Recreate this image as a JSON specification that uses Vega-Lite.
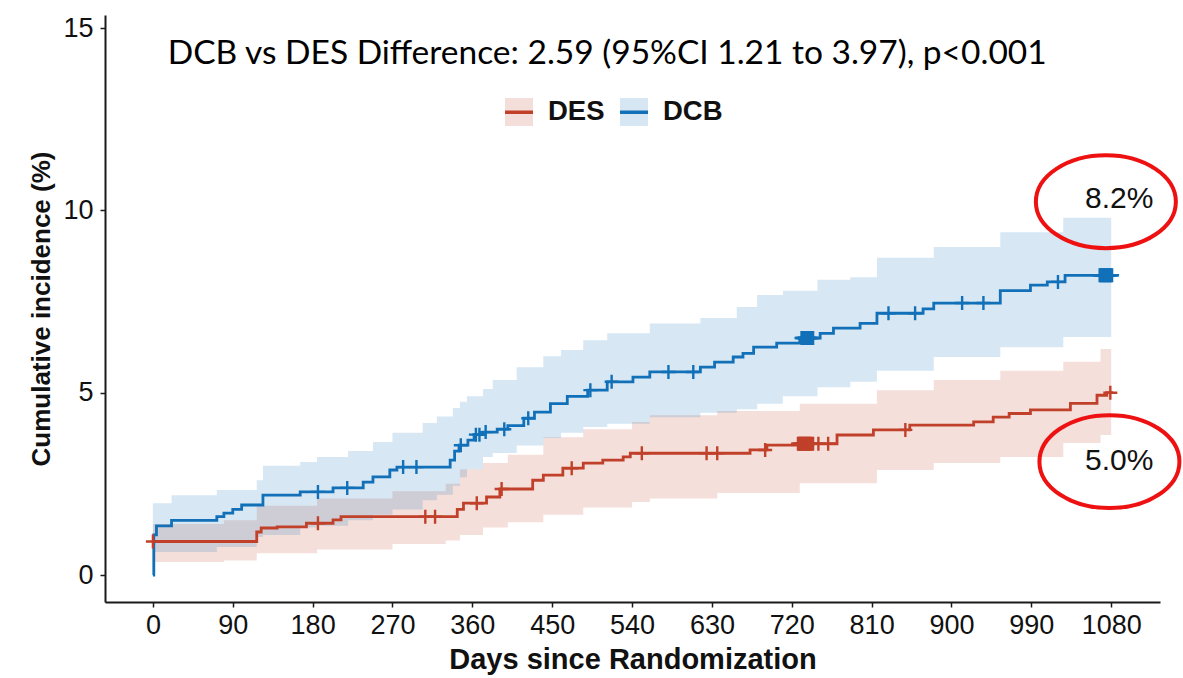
{
  "$schema": "https://vega.github.io/schema/vega-lite/v6.json",
  "width": 1055,
  "height": 587,
  "autosize": {"type": "none"},
  "padding": {"left": 105, "top": 15, "right": 23, "bottom": 76},
  "background": "white",
  "config": {
    "view": {"stroke": null},
    "axis": {
      "grid": false,
      "domainColor": "#1a1a1a",
      "domainWidth": 2,
      "tickColor": "#1a1a1a",
      "tickWidth": 1.5,
      "tickSize": 5,
      "labelFont": "Liberation Sans",
      "labelFontSize": 27,
      "labelColor": "#111111",
      "titleFont": "Liberation Sans",
      "titleFontWeight": "bold",
      "titleColor": "#111111"
    }
  },
  "datasets": {
    "bands": [
      {"group": "DES", "day": 0, "lo": 0.36, "hi": 1.4},
      {"group": "DES", "day": 80, "lo": 0.4, "hi": 1.5},
      {"group": "DES", "day": 117, "lo": 0.6, "hi": 1.9},
      {"group": "DES", "day": 185, "lo": 0.7, "hi": 2.1},
      {"group": "DES", "day": 270, "lo": 0.85, "hi": 2.3},
      {"group": "DES", "day": 330, "lo": 0.95, "hi": 2.5},
      {"group": "DES", "day": 346, "lo": 1.1, "hi": 2.9},
      {"group": "DES", "day": 372, "lo": 1.3, "hi": 3.07},
      {"group": "DES", "day": 400, "lo": 1.45, "hi": 3.3},
      {"group": "DES", "day": 440, "lo": 1.65, "hi": 3.78},
      {"group": "DES", "day": 485, "lo": 1.85, "hi": 4.0},
      {"group": "DES", "day": 540, "lo": 2.0, "hi": 4.2},
      {"group": "DES", "day": 560, "lo": 2.1, "hi": 4.38},
      {"group": "DES", "day": 636, "lo": 2.25, "hi": 4.5},
      {"group": "DES", "day": 729, "lo": 2.52, "hi": 4.7},
      {"group": "DES", "day": 816, "lo": 2.88, "hi": 5.07},
      {"group": "DES", "day": 880, "lo": 3.07, "hi": 5.35},
      {"group": "DES", "day": 955, "lo": 3.24, "hi": 5.6},
      {"group": "DES", "day": 1026, "lo": 3.62, "hi": 5.85},
      {"group": "DES", "day": 1068, "lo": 3.84, "hi": 6.2},
      {"group": "DES", "day": 1080, "lo": 3.84, "hi": 6.2},
      {"group": "DCB", "day": 0, "lo": 0.63, "hi": 1.97},
      {"group": "DCB", "day": 21, "lo": 0.63, "hi": 2.19},
      {"group": "DCB", "day": 72, "lo": 0.77, "hi": 2.33},
      {"group": "DCB", "day": 117, "lo": 1.04, "hi": 2.6},
      {"group": "DCB", "day": 124, "lo": 1.1, "hi": 3.0},
      {"group": "DCB", "day": 166, "lo": 1.3, "hi": 3.1},
      {"group": "DCB", "day": 185, "lo": 1.35, "hi": 3.24},
      {"group": "DCB", "day": 220, "lo": 1.5, "hi": 3.4},
      {"group": "DCB", "day": 248, "lo": 1.65, "hi": 3.65},
      {"group": "DCB", "day": 270, "lo": 1.8, "hi": 3.9},
      {"group": "DCB", "day": 304, "lo": 2.05, "hi": 4.17},
      {"group": "DCB", "day": 320, "lo": 2.2, "hi": 4.35},
      {"group": "DCB", "day": 338, "lo": 2.45, "hi": 4.58},
      {"group": "DCB", "day": 346, "lo": 2.68, "hi": 4.75},
      {"group": "DCB", "day": 354, "lo": 2.9, "hi": 4.9},
      {"group": "DCB", "day": 372, "lo": 3.24, "hi": 5.1},
      {"group": "DCB", "day": 383, "lo": 3.35, "hi": 5.35},
      {"group": "DCB", "day": 410, "lo": 3.55, "hi": 5.7},
      {"group": "DCB", "day": 440, "lo": 3.76, "hi": 6.0},
      {"group": "DCB", "day": 460, "lo": 3.9, "hi": 6.17},
      {"group": "DCB", "day": 485, "lo": 4.06, "hi": 6.44},
      {"group": "DCB", "day": 512, "lo": 4.15, "hi": 6.63},
      {"group": "DCB", "day": 560, "lo": 4.33, "hi": 6.9},
      {"group": "DCB", "day": 617, "lo": 4.45, "hi": 7.05},
      {"group": "DCB", "day": 658, "lo": 4.55, "hi": 7.35},
      {"group": "DCB", "day": 681, "lo": 4.7, "hi": 7.68},
      {"group": "DCB", "day": 710, "lo": 4.9, "hi": 7.8},
      {"group": "DCB", "day": 749, "lo": 5.15, "hi": 8.1},
      {"group": "DCB", "day": 786, "lo": 5.3, "hi": 8.17},
      {"group": "DCB", "day": 816, "lo": 5.6, "hi": 8.7},
      {"group": "DCB", "day": 880, "lo": 5.98, "hi": 9.0},
      {"group": "DCB", "day": 955, "lo": 6.25, "hi": 9.4},
      {"group": "DCB", "day": 1026, "lo": 6.53, "hi": 9.8},
      {"group": "DCB", "day": 1080, "lo": 6.53, "hi": 9.8}
    ],
    "curves": [
      {"grp": "DES", "day": 0, "est": 0.92},
      {"grp": "DES", "day": 117, "est": 1.18},
      {"grp": "DES", "day": 122, "est": 1.29},
      {"grp": "DES", "day": 140, "est": 1.32},
      {"grp": "DES", "day": 173, "est": 1.42},
      {"grp": "DES", "day": 203, "est": 1.51},
      {"grp": "DES", "day": 212, "est": 1.6},
      {"grp": "DES", "day": 343, "est": 1.8},
      {"grp": "DES", "day": 350, "est": 1.97},
      {"grp": "DES", "day": 376, "est": 2.14},
      {"grp": "DES", "day": 391, "est": 2.36},
      {"grp": "DES", "day": 428, "est": 2.6},
      {"grp": "DES", "day": 440, "est": 2.74},
      {"grp": "DES", "day": 462, "est": 2.93},
      {"grp": "DES", "day": 485, "est": 3.07},
      {"grp": "DES", "day": 507, "est": 3.15},
      {"grp": "DES", "day": 530, "est": 3.24},
      {"grp": "DES", "day": 538, "est": 3.34},
      {"grp": "DES", "day": 673, "est": 3.43},
      {"grp": "DES", "day": 692, "est": 3.56},
      {"grp": "DES", "day": 726, "est": 3.6},
      {"grp": "DES", "day": 771, "est": 3.84},
      {"grp": "DES", "day": 812, "est": 3.98},
      {"grp": "DES", "day": 853, "est": 4.11},
      {"grp": "DES", "day": 925, "est": 4.2},
      {"grp": "DES", "day": 947, "est": 4.33},
      {"grp": "DES", "day": 965, "est": 4.43},
      {"grp": "DES", "day": 989, "est": 4.53},
      {"grp": "DES", "day": 1034, "est": 4.71},
      {"grp": "DES", "day": 1064, "est": 4.93},
      {"grp": "DES", "day": 1075, "est": 5.0},
      {"grp": "DES", "day": 1082, "est": 5.0},
      {"grp": "DCB", "day": 0, "est": 0},
      {"grp": "DCB", "day": 1, "est": 1.1},
      {"grp": "DCB", "day": 4, "est": 1.35},
      {"grp": "DCB", "day": 21, "est": 1.5},
      {"grp": "DCB", "day": 72, "est": 1.6},
      {"grp": "DCB", "day": 80, "est": 1.7},
      {"grp": "DCB", "day": 90, "est": 1.8},
      {"grp": "DCB", "day": 100, "est": 1.92},
      {"grp": "DCB", "day": 124, "est": 2.19},
      {"grp": "DCB", "day": 166, "est": 2.28},
      {"grp": "DCB", "day": 203, "est": 2.39},
      {"grp": "DCB", "day": 237, "est": 2.55},
      {"grp": "DCB", "day": 248, "est": 2.69},
      {"grp": "DCB", "day": 267, "est": 2.88},
      {"grp": "DCB", "day": 275, "est": 2.96},
      {"grp": "DCB", "day": 335, "est": 3.15},
      {"grp": "DCB", "day": 340, "est": 3.4},
      {"grp": "DCB", "day": 345, "est": 3.56},
      {"grp": "DCB", "day": 355, "est": 3.7},
      {"grp": "DCB", "day": 362, "est": 3.85},
      {"grp": "DCB", "day": 372, "est": 3.92},
      {"grp": "DCB", "day": 388, "est": 4.0},
      {"grp": "DCB", "day": 400, "est": 4.1},
      {"grp": "DCB", "day": 418, "est": 4.3},
      {"grp": "DCB", "day": 430, "est": 4.47},
      {"grp": "DCB", "day": 448, "est": 4.7},
      {"grp": "DCB", "day": 467, "est": 4.9},
      {"grp": "DCB", "day": 490, "est": 5.07},
      {"grp": "DCB", "day": 512, "est": 5.3},
      {"grp": "DCB", "day": 541, "est": 5.43},
      {"grp": "DCB", "day": 560, "est": 5.57},
      {"grp": "DCB", "day": 617, "est": 5.7},
      {"grp": "DCB", "day": 633, "est": 5.84},
      {"grp": "DCB", "day": 654, "est": 5.98},
      {"grp": "DCB", "day": 665, "est": 6.08},
      {"grp": "DCB", "day": 677, "est": 6.25},
      {"grp": "DCB", "day": 703, "est": 6.36},
      {"grp": "DCB", "day": 729, "est": 6.5},
      {"grp": "DCB", "day": 752, "est": 6.63},
      {"grp": "DCB", "day": 767, "est": 6.77},
      {"grp": "DCB", "day": 797, "est": 6.9},
      {"grp": "DCB", "day": 816, "est": 7.18},
      {"grp": "DCB", "day": 868, "est": 7.3},
      {"grp": "DCB", "day": 880, "est": 7.46},
      {"grp": "DCB", "day": 955, "est": 7.8},
      {"grp": "DCB", "day": 989, "est": 7.95},
      {"grp": "DCB", "day": 1008, "est": 8.04},
      {"grp": "DCB", "day": 1028, "est": 8.22},
      {"grp": "DCB", "day": 1084, "est": 8.22}
    ],
    "censors": [
      {"grp": "DES", "day": 0, "est": 0.92},
      {"grp": "DES", "day": 186, "est": 1.42},
      {"grp": "DES", "day": 307, "est": 1.6},
      {"grp": "DES", "day": 318, "est": 1.6},
      {"grp": "DES", "day": 365, "est": 1.97},
      {"grp": "DES", "day": 393, "est": 2.36},
      {"grp": "DES", "day": 472, "est": 2.93},
      {"grp": "DES", "day": 551, "est": 3.34},
      {"grp": "DES", "day": 624, "est": 3.34},
      {"grp": "DES", "day": 636, "est": 3.34},
      {"grp": "DES", "day": 690, "est": 3.43},
      {"grp": "DES", "day": 727, "est": 3.6},
      {"grp": "DES", "day": 728, "est": 3.6},
      {"grp": "DES", "day": 729, "est": 3.6},
      {"grp": "DES", "day": 730, "est": 3.6},
      {"grp": "DES", "day": 731, "est": 3.6},
      {"grp": "DES", "day": 732, "est": 3.6},
      {"grp": "DES", "day": 733, "est": 3.6},
      {"grp": "DES", "day": 734, "est": 3.6},
      {"grp": "DES", "day": 735, "est": 3.6},
      {"grp": "DES", "day": 736, "est": 3.6},
      {"grp": "DES", "day": 737, "est": 3.6},
      {"grp": "DES", "day": 738, "est": 3.6},
      {"grp": "DES", "day": 739, "est": 3.6},
      {"grp": "DES", "day": 740, "est": 3.6},
      {"grp": "DES", "day": 741, "est": 3.6},
      {"grp": "DES", "day": 742, "est": 3.6},
      {"grp": "DES", "day": 744, "est": 3.6},
      {"grp": "DES", "day": 750, "est": 3.6},
      {"grp": "DES", "day": 761, "est": 3.6},
      {"grp": "DES", "day": 848, "est": 3.98},
      {"grp": "DES", "day": 1079, "est": 5.0},
      {"grp": "DCB", "day": 186, "est": 2.28},
      {"grp": "DCB", "day": 219, "est": 2.39},
      {"grp": "DCB", "day": 282, "est": 2.96},
      {"grp": "DCB", "day": 297, "est": 2.96},
      {"grp": "DCB", "day": 347, "est": 3.56},
      {"grp": "DCB", "day": 364, "est": 3.85},
      {"grp": "DCB", "day": 368, "est": 3.85},
      {"grp": "DCB", "day": 375, "est": 3.92},
      {"grp": "DCB", "day": 396, "est": 4.0},
      {"grp": "DCB", "day": 423, "est": 4.3},
      {"grp": "DCB", "day": 493, "est": 5.07},
      {"grp": "DCB", "day": 517, "est": 5.3},
      {"grp": "DCB", "day": 581, "est": 5.57},
      {"grp": "DCB", "day": 609, "est": 5.57},
      {"grp": "DCB", "day": 731, "est": 6.5},
      {"grp": "DCB", "day": 732, "est": 6.5},
      {"grp": "DCB", "day": 733, "est": 6.5},
      {"grp": "DCB", "day": 734, "est": 6.5},
      {"grp": "DCB", "day": 735, "est": 6.5},
      {"grp": "DCB", "day": 736, "est": 6.5},
      {"grp": "DCB", "day": 737, "est": 6.5},
      {"grp": "DCB", "day": 738, "est": 6.5},
      {"grp": "DCB", "day": 739, "est": 6.5},
      {"grp": "DCB", "day": 740, "est": 6.5},
      {"grp": "DCB", "day": 741, "est": 6.5},
      {"grp": "DCB", "day": 742, "est": 6.5},
      {"grp": "DCB", "day": 744, "est": 6.5},
      {"grp": "DCB", "day": 829, "est": 7.18},
      {"grp": "DCB", "day": 859, "est": 7.18},
      {"grp": "DCB", "day": 912, "est": 7.46},
      {"grp": "DCB", "day": 936, "est": 7.46},
      {"grp": "DCB", "day": 1020, "est": 8.04},
      {"grp": "DCB", "day": 1067, "est": 8.22},
      {"grp": "DCB", "day": 1068, "est": 8.22},
      {"grp": "DCB", "day": 1069, "est": 8.22},
      {"grp": "DCB", "day": 1070, "est": 8.22},
      {"grp": "DCB", "day": 1071, "est": 8.22},
      {"grp": "DCB", "day": 1072, "est": 8.22},
      {"grp": "DCB", "day": 1073, "est": 8.22},
      {"grp": "DCB", "day": 1074, "est": 8.22},
      {"grp": "DCB", "day": 1075, "est": 8.22},
      {"grp": "DCB", "day": 1076, "est": 8.22},
      {"grp": "DCB", "day": 1077, "est": 8.22},
      {"grp": "DCB", "day": 1078, "est": 8.22},
      {"grp": "DCB", "day": 1079, "est": 8.22},
      {"grp": "DCB", "day": 1080, "est": 8.22},
      {"grp": "DCB", "day": 1081, "est": 8.22}
    ],
    "notes": [
      {"day": 1089, "val": 10.31, "label": "8.2%"},
      {"day": 1089, "val": 3.14, "label": "5.0%"}
    ],
    "rings": [
      {"day": 1074, "val": 10.24},
      {"day": 1078, "val": 3.11}
    ],
    "heading": [
      {"day": 512, "val": 14.3, "label": "DCB vs DES Difference: 2.59 (95%CI 1.21 to 3.97), p<0.001"}
    ]
  },
  "layer": [
    {
      "data": {"name": "bands"},
      "mark": {"type": "area", "interpolate": "step-after", "opacity": 0.17},
      "encoding": {
        "x": {"field": "day", "type": "quantitative", "scale": {"domain": [-54, 1135], "nice": false, "zero": false},
          "axis": {"values": [0, 90, 180, 270, 360, 450, 540, 630, 720, 810, 900, 990, 1080], "format": "d", "title": "Days since Randomization", "titleFontSize": 29, "labelPadding": 5, "titlePadding": 7, "labelFlush": false}},
        "y": {"field": "lo", "type": "quantitative", "scale": {"domain": [-0.74, 15.36], "nice": false, "zero": false},
          "axis": {"values": [0, 5, 10, 15], "title": "Cumulative incidence (%)", "titleFontSize": 26, "labelPadding": 7, "titlePadding": 8}},
        "y2": {"field": "hi"},
        "fill": {"field": "group", "type": "nominal", "scale": {"domain": ["DES", "DCB"], "range": ["#c0402a", "#1170b8"]},
          "legend": {"orient": "none", "legendX": 398, "legendY": 81, "direction": "horizontal", "title": null,
            "symbolType": "square", "symbolSize": 784, "symbolStrokeWidth": 3.5, "symbolStrokeColor": "transparent",
            "labelFont": "Liberation Sans", "labelFontSize": 27.5, "labelFontWeight": "bold", "labelColor": "#111111",
            "labelOffset": 13, "columnPadding": 8, "labelOpacity": 0,
            "encode": {"symbols": {"update": {"opacity": {"value": 0.17}, "fillOpacity": {"value": 1}, "stroke": {"value": "transparent"}}}}}}
      }
    },
    {
      "data": {"name": "curves"},
      "mark": {"type": "line", "interpolate": "step-after", "strokeWidth": 2.8},
      "encoding": {
        "x": {"field": "day", "type": "quantitative"},
        "y": {"field": "est", "type": "quantitative"},
        "stroke": {"field": "grp", "type": "nominal", "sort": "descending", "scale": {"range": ["#c0402a", "#1170b8"]},
          "legend": {"orient": "none", "legendX": 398, "legendY": 81, "direction": "horizontal", "title": null,
            "symbolType": "stroke", "symbolSize": 784, "symbolStrokeWidth": 3.5,
            "labelFont": "Liberation Sans", "labelFontSize": 27.5, "labelFontWeight": "bold", "labelColor": "#111111",
            "labelOffset": 13, "columnPadding": 8}}
      }
    },
    {
      "data": {"name": "censors"},
      "mark": {"type": "point", "shape": "M0,-1V1M-1,0H1", "filled": false, "size": 196, "strokeWidth": 2.4, "opacity": 1},
      "encoding": {
        "x": {"field": "day", "type": "quantitative"},
        "y": {"field": "est", "type": "quantitative"},
        "stroke": {"field": "grp", "type": "nominal", "sort": "descending",
          "legend": {"orient": "none", "legendX": 398, "legendY": 81, "direction": "horizontal", "title": null,
            "symbolType": "stroke", "symbolSize": 784, "symbolStrokeWidth": 3.5,
            "labelFont": "Liberation Sans", "labelFontSize": 27.5, "labelFontWeight": "bold", "labelColor": "#111111",
            "labelOffset": 13, "columnPadding": 8}}
      }
    },
    {
      "data": {"name": "heading"},
      "mark": {"type": "text", "font": "Lato", "fontSize": 33.5, "color": "#000000", "baseline": "middle", "align": "center"},
      "encoding": {
        "x": {"field": "day", "type": "quantitative"},
        "y": {"field": "val", "type": "quantitative"},
        "text": {"field": "label"}
      }
    },
    {
      "data": {"name": "rings"},
      "mark": {"type": "point", "shape": "M-1,0A1,0.664,0,1,1,1,0A1,0.664,0,1,1,-1,0Z", "filled": false, "size": 19600, "strokeWidth": 4, "color": "#ee1111", "opacity": 1},
      "encoding": {
        "x": {"field": "day", "type": "quantitative"},
        "y": {"field": "val", "type": "quantitative"}
      }
    },
    {
      "data": {"name": "notes"},
      "mark": {"type": "text", "font": "Liberation Sans", "fontSize": 30, "color": "#111111", "baseline": "middle", "align": "center"},
      "encoding": {
        "x": {"field": "day", "type": "quantitative"},
        "y": {"field": "val", "type": "quantitative"},
        "text": {"field": "label"}
      }
    }
  ]
}
